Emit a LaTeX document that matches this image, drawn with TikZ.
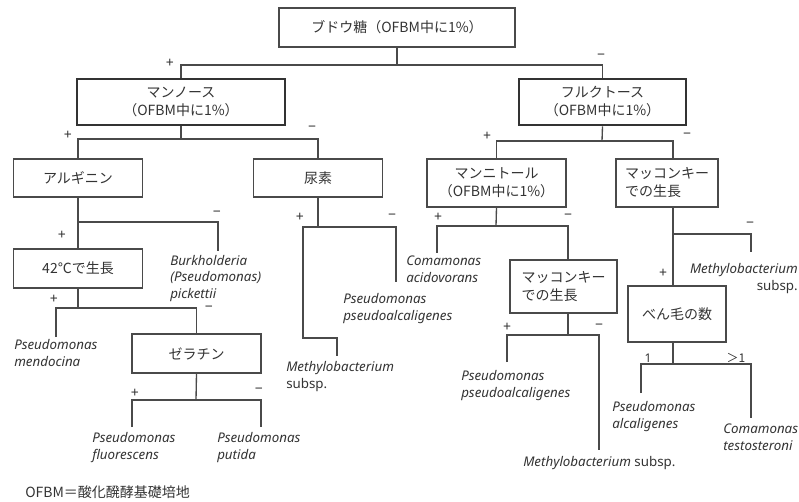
\documentclass[tikz,border=0pt]{standalone}
\usepackage{fontspec}
\setmainfont{Noto Sans}
\newfontfamily\jp{Noto Sans CJK JP}
\definecolor{ink}{HTML}{333333}
\definecolor{ln}{HTML}{4A4A4A}
\begin{document}
\begin{tikzpicture}[x=0.75pt,y=-0.75pt,
  box/.style={draw=ln, line width=1pt, inner sep=0pt, align=center, text=ink,
    font=\jp\fontsize{10.5}{13.5}\selectfont},
  boldbox/.style={box, draw=ink, line width=2.1pt},
  lbox/.style={box, align=left},
  sp/.style={inner sep=0pt, anchor=base west, align=left, text=ink,
    font=\itshape\fontsize{10}{12.25}\selectfont},
  spr/.style={sp, anchor=base east, align=right},
  sgn/.style={inner sep=0pt, text=ink, font=\fontsize{10.5}{10.5}\selectfont},
  conn/.style={draw=ln, line width=1pt}]
\useasboundingbox (0,0) rectangle (799,502);

% boxes
\node[box, minimum width=177pt, minimum height=29.25pt] (root) at (397,27.5) {ブドウ糖（OFBM中に1\%）};
\node[boldbox, minimum width=156pt, minimum height=34.5pt] (mannose) at (181,102) {マンノース\\（OFBM中に1\%）};
\node[boldbox, minimum width=125.25pt, minimum height=34.5pt] (fructose) at (602.5,102) {フルクトース\\（OFBM中に1\%）};
\node[box, minimum width=96.75pt, minimum height=28.5pt] (arginine) at (78,178) {アルギニン};
\node[box, minimum width=96.75pt, minimum height=28.5pt] (urea) at (318,178) {尿素};
\node[box, minimum width=104.25pt, minimum height=36pt] (mannitol) at (496.5,183) {マンニトール\\（OFBM中に1\%）};
\node[lbox, minimum width=76.5pt, minimum height=36pt] (mac1) at (667,183) {マッコンキー\\での生長};
\node[box, minimum width=96.75pt, minimum height=29.25pt] (g42) at (78,268.5) {42℃で生長};
\node[box, minimum width=96.75pt, minimum height=29.25pt] (gelatin) at (196.5,353.5) {ゼラチン};
\node[lbox, minimum width=80.25pt, minimum height=39.75pt] (mac2) at (563.5,286.5) {マッコンキー\\での生長};
\node[box, minimum width=73.5pt, minimum height=42pt] (flag) at (677,314) {べん毛の数};

% leaf texts (base anchor = baseline of last line)
\node[sp] (burk) at (170,298) {Burkholderia\\(Pseudomonas)\\pickettii};
\node[sp] (mend) at (14,366) {Pseudomonas\\mendocina};
\node[sp] (fluo) at (92,459) {Pseudomonas\\fluorescens};
\node[sp] (put) at (217,459) {Pseudomonas\\putida};
\node[sp] (meth1) at (286,388) {Methylobacterium\\\upshape subsp.};
\node[sp] (ppa1) at (343,320) {Pseudomonas\\pseudoalcaligenes};
\node[sp] (coma) at (406,282) {Comamonas\\acidovorans};
\node[sp] (ppa2) at (461,397) {Pseudomonas\\pseudoalcaligenes};
\node[sp] (meth2) at (523,466) {Methylobacterium {\upshape subsp.}};
\node[sp] (alc) at (612,428) {Pseudomonas\\alcaligenes};
\node[sp] (test) at (723,450) {Comamonas\\testosteroni};
\node[spr] (meth3) at (798,290) {Methylobacterium\\\upshape subsp.};
\node[inner sep=0pt, anchor=base west, text=ink, font=\jp\fontsize{10.5}{12}\selectfont] (foot) at (25,497) {OFBM＝酸化醗酵基礎培地};

% junction and end coordinates
\coordinate (x673) at (673,0);
\coordinate (x568) at (568,0);
\coordinate (j0) at (397,65);
\coordinate (j1) at (181,139);
\coordinate (j2) at (602,141);
\coordinate (j3) at (78,222);
\coordinate (eburk) at (218,251);
\coordinate (j4) at (318,227);
\coordinate (eppa1) at (396,282);
\coordinate (k4) at (303,338);
\coordinate (emeth1) at (337,356);
\coordinate (j5) at (78,308);
\coordinate (emend) at (56,337);
\coordinate (j6) at (196,400);
\coordinate (efluo) at (132,427);
\coordinate (eput) at (261,427);
\coordinate (j7) at (496,226);
\coordinate (ecoma) at (437,253);
\coordinate (j8) at (568,335);
\coordinate (eppa2) at (507,362);
\coordinate (emeth2) at (599,450);
\coordinate (j9) at (673,234);
\coordinate (emeth3) at (751,252);
\coordinate (j10) at (673,364);
\coordinate (ealc) at (641,393);
\coordinate (etest) at (751,418);

% connectors
\draw[conn] (root.south) -- (j0);
\draw[conn] (mannose.north) |- (j0) -| (fructose.north);
\draw[conn] (mannose.south) -- (j1);
\draw[conn] (arginine.north) |- (j1) -| (urea.north);
\draw[conn] (fructose.south) -- (j2);
\draw[conn] (mannitol.north) |- (j2) -| (mac1.north -| x673);
\draw[conn] (arginine.south) -- (g42.north);
\draw[conn] (j3) -| (eburk);
\draw[conn] (urea.south) -- (j4);
\draw[conn] (j4) -| (eppa1);
\draw[conn] (j4) -| (k4) -| (emeth1);
\draw[conn] (g42.south) -- (j5);
\draw[conn] (emend) |- (j5) -| (gelatin.north);
\draw[conn] (gelatin.south) -- (j6);
\draw[conn] (efluo) |- (j6) -| (eput);
\draw[conn] (mannitol.south) -- (j7);
\draw[conn] (ecoma) |- (j7) -| (mac2.north -| x568);
\draw[conn] (mac2.south -| x568) -- (j8);
\draw[conn] (eppa2) |- (j8) -| (emeth2);
\draw[conn] (mac1.south -| x673) -- (flag.north -| x673);
\draw[conn] (j9) -| (emeth3);
\draw[conn] (flag.south -| x673) -- (j10);
\draw[conn] (ealc) |- (j10) -| (etest);

% signs
\node[sgn] (s1) at (170,63) {+};
\node[sgn] (s2) at (601,57) {−};
\node[sgn] (s3) at (68,135) {+};
\node[sgn] (s4) at (312,129) {−};
\node[sgn] (s5) at (487,136) {+};
\node[sgn] (s6) at (687,136) {−};
\node[sgn] (s7) at (217,214) {−};
\node[sgn] (s8) at (62,235) {+};
\node[sgn] (s9) at (54,299) {+};
\node[sgn] (s10) at (209,309) {−};
\node[sgn] (s11) at (300,217) {+};
\node[sgn] (s12) at (392,217) {−};
\node[sgn] (s13) at (438,217) {+};
\node[sgn] (s14) at (568,217) {−};
\node[sgn] (s15) at (135,393) {+};
\node[sgn] (s16) at (259,391) {−};
\node[sgn] (s17) at (507,327) {+};
\node[sgn] (s18) at (599,327) {−};
\node[sgn] (s19) at (750,225) {−};
\node[sgn] (s20) at (663,273) {+};
\node[sgn, font=\fontsize{9}{9}\selectfont] (s21) at (648,358) {1};
\node[sgn, font=\jp\fontsize{9}{9}\selectfont] (s22) at (736,358) {＞1};
\end{tikzpicture}
\end{document}
